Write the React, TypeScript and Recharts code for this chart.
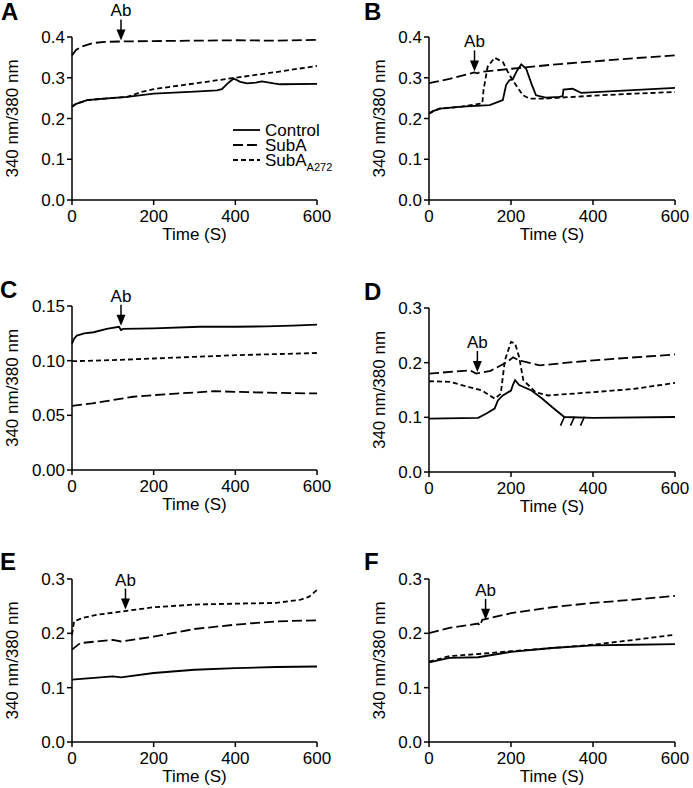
import { LineChart, Line, XAxis, YAxis, ReferenceDot } from 'recharts'

type Pt = [number, number]

// traces: [time (s), 340/380 ratio]
const A_CONTROL: Pt[] = [[0, 0.229], [10, 0.236], [37, 0.245], [80, 0.249], [135, 0.253], [200, 0.261], [300, 0.266], [355, 0.269], [367, 0.272], [380, 0.285], [396, 0.298], [412, 0.29], [429, 0.286], [450, 0.288], [465, 0.291], [494, 0.286], [510, 0.284], [600, 0.285]]
const A_SUBA: Pt[] = [[0, 0.355], [10, 0.368], [25, 0.377], [50, 0.385], [80, 0.388], [120, 0.389], [200, 0.39], [300, 0.391], [400, 0.392], [500, 0.391], [600, 0.393]]
const A_A272: Pt[] = [[0, 0.229], [10, 0.236], [37, 0.245], [80, 0.249], [135, 0.253], [170, 0.265], [200, 0.272], [300, 0.286], [400, 0.3], [500, 0.314], [600, 0.329]]

const B_CONTROL: Pt[] = [[0, 0.212], [10, 0.218], [26, 0.224], [80, 0.229], [148, 0.233], [180, 0.245], [188, 0.282], [196, 0.294], [204, 0.296], [215, 0.318], [225, 0.333], [237, 0.322], [250, 0.285], [261, 0.257], [285, 0.251], [318, 0.253], [326, 0.255], [328, 0.271], [350, 0.273], [371, 0.263], [600, 0.275]]
const B_SUBA: Pt[] = [[0, 0.287], [50, 0.297], [100, 0.31], [110, 0.313], [118, 0.311], [125, 0.314], [200, 0.322], [300, 0.332], [400, 0.34], [500, 0.348], [600, 0.355]]
const B_A272: Pt[] = [[0, 0.212], [10, 0.218], [26, 0.224], [80, 0.229], [130, 0.237], [133, 0.27], [143, 0.327], [160, 0.349], [180, 0.339], [192, 0.315], [204, 0.294], [229, 0.257], [245, 0.249], [285, 0.249], [400, 0.256], [500, 0.261], [600, 0.265]]

const C_CONTROL: Pt[] = [[0, 0.1156], [5, 0.12], [12, 0.123], [30, 0.125], [53, 0.126], [85, 0.129], [115, 0.131], [120, 0.128], [125, 0.129], [200, 0.1295], [313, 0.131], [400, 0.131], [476, 0.1314], [540, 0.132], [600, 0.133]]
const C_SUBA: Pt[] = [[0, 0.0587], [50, 0.061], [100, 0.064], [150, 0.067], [200, 0.0685], [300, 0.0709], [350, 0.0721], [400, 0.0715], [500, 0.0706], [600, 0.07]]
const C_A272: Pt[] = [[0, 0.0995], [100, 0.1005], [200, 0.102], [300, 0.1035], [400, 0.105], [500, 0.106], [600, 0.107]]

const D_CONTROL: Pt[] = [[0, 0.0976], [120, 0.099], [140, 0.107], [160, 0.116], [165, 0.125], [168, 0.131], [180, 0.14], [200, 0.149], [205, 0.16], [210, 0.168], [220, 0.159], [250, 0.149], [275, 0.135], [300, 0.119], [330, 0.1006], [400, 0.099], [600, 0.1006]]
const D_SUBA: Pt[] = [[0, 0.18], [100, 0.186], [115, 0.18], [150, 0.185], [190, 0.201], [205, 0.21], [220, 0.204], [270, 0.195], [350, 0.201], [450, 0.207], [600, 0.215]]
const D_A272: Pt[] = [[0, 0.166], [50, 0.165], [100, 0.155], [130, 0.149], [160, 0.134], [175, 0.143], [185, 0.204], [200, 0.238], [210, 0.235], [220, 0.21], [230, 0.168], [260, 0.146], [290, 0.14], [400, 0.146], [500, 0.152], [600, 0.163]]

const E_CONTROL: Pt[] = [[0, 0.1147], [100, 0.1208], [120, 0.119], [200, 0.127], [300, 0.133], [400, 0.136], [500, 0.138], [600, 0.139]]
const E_SUBA: Pt[] = [[0, 0.17], [20, 0.182], [100, 0.188], [120, 0.185], [200, 0.194], [300, 0.208], [400, 0.216], [500, 0.222], [600, 0.224]]
const E_A272: Pt[] = [[0, 0.1975], [5, 0.222], [25, 0.228], [60, 0.234], [120, 0.24], [200, 0.248], [300, 0.253], [400, 0.2546], [500, 0.256], [560, 0.262], [580, 0.267], [600, 0.28]]

const F_CONTROL: Pt[] = [[0, 0.1466], [50, 0.155], [120, 0.156], [200, 0.166], [300, 0.173], [400, 0.178], [500, 0.179], [600, 0.18]]
const F_SUBA: Pt[] = [[0, 0.2006], [50, 0.21], [120, 0.218], [124, 0.214], [130, 0.225], [200, 0.237], [300, 0.248], [400, 0.256], [500, 0.262], [600, 0.269]]
const F_A272: Pt[] = [[0, 0.148], [50, 0.158], [120, 0.162], [200, 0.167], [300, 0.173], [400, 0.179], [500, 0.188], [600, 0.1975]]

const X_TICKS = [0, 200, 400, 600]
const Y_TICKS = [0, 0.1, 0.2, 0.3, 0.4]
const Y_TICKS_03 = [0, 0.1, 0.2, 0.3]
const Y_TICKS_C = [0, 0.05, 0.1, 0.15]

const FONT = '"Liberation Sans", Arial, sans-serif'
const SERIES = [
  { name: 'Control', dash: undefined as string | undefined },
  { name: 'SubA', dash: '10 4' },
  { name: 'SubA272', dash: '5 3' },
]

const toRows = (pts: Pt[]) => pts.map(([t, v]) => ({ t, v }))

const AbArrow = (props: any) => {
  const { cx, cy } = props
  return (
    <g>
      <text x={cx} y={cy - 25} textAnchor="middle" fontSize={17} fontFamily={FONT} fill="#000">Ab</text>
      <line x1={cx} y1={cy - 22} x2={cx} y2={cy - 9} stroke="#000" strokeWidth={1.5} />
      <path d={`M${cx - 4.5},${cy - 12} L${cx + 4.5},${cy - 12} L${cx},${cy - 1} Z`} fill="#000" />
    </g>
  )
}

const Hash = (props: any) => {
  const { cx, cy } = props
  return (
    <g stroke="#000" strokeWidth={1.6}>
      {[-10, 0, 10].map((dx) => (
        <line key={dx} x1={cx + dx + 2} y1={cy - 4} x2={cx + dx - 2} y2={cy + 5} />
      ))}
    </g>
  )
}

// legend of panel A, drawn over the plot
const LegendBox = () => (
  <svg width={130} height={52} style={{ position: 'absolute', left: 233, top: 122, overflow: 'visible' }}>
    {SERIES.map((s, i) => (
      <g key={s.name}>
        <line x1={0} x2={27} y1={8 + i * 15} y2={8 + i * 15} stroke="#000" strokeWidth={1.8} strokeDasharray={s.dash} />
        <text x={32} y={14 + i * 15} fontSize={17} fontFamily={FONT} fill="#000">
          {i === 2 ? (
            <>SubA<tspan fontSize={11} dy={5}>A272</tspan></>
          ) : s.name}
        </text>
      </g>
    ))}
  </svg>
)

interface PanelProps {
  left: number
  top: number
  w: number
  h: number
  yMax: number
  yTicks: number[]
  digits: number
  labelOffset: number
  control: Pt[]
  subA: Pt[]
  a272: Pt[]
  ab: Pt
  hash?: Pt
}

const MT = 40
const YW = 72
const MR = 20
const XH = 50

function Panel(p: PanelProps) {
  const series = [p.control, p.subA, p.a272]
  return (
    <div style={{ position: 'absolute', left: p.left - YW, top: p.top - MT }}>
      <LineChart width={YW + p.w + MR} height={MT + p.h + XH} margin={{ top: MT, right: MR, left: 0, bottom: 0 }} style={{ overflow: 'visible' }}>
        <XAxis
          dataKey="t"
          type="number"
          domain={[0, 600]}
          ticks={X_TICKS}
          height={XH}
          stroke="#000"
          strokeWidth={1.5}
          tickSize={5}
          tickMargin={5}
          tick={{ fontSize: 17, fill: '#000', fontFamily: FONT }}
          label={{
            content: () => (
              <text x={YW + p.w / 2} y={MT + p.h + 40} textAnchor="middle" fontSize={17} fontFamily={FONT} fill="#000">Time (S)</text>
            ),
          }}
        />
        <YAxis
          type="number"
          domain={[0, p.yMax]}
          ticks={p.yTicks}
          width={YW}
          stroke="#000"
          strokeWidth={1.5}
          tickSize={5}
          tickMargin={2}
          tickFormatter={(v: number) => v.toFixed(p.digits)}
          tick={{ fontSize: 17, fill: '#000', fontFamily: FONT }}
          label={{
            content: () => (
              <text
                x={YW - p.labelOffset}
                y={MT + p.h / 2}
                transform={`rotate(-90 ${YW - p.labelOffset} ${MT + p.h / 2})`}
                textAnchor="middle"
                dominantBaseline="central"
                fontSize={17}
                fontFamily={FONT}
                fill="#000"
              >340 nm/380 nm</text>
            ),
          }}
        />
        {series.map((s, i) => (
          <Line
            key={SERIES[i].name}
            data={toRows(s)}
            dataKey="v"
            name={SERIES[i].name}
            type="linear"
            stroke="#000"
            strokeWidth={1.8}
            strokeDasharray={SERIES[i].dash}
            dot={false}
            isAnimationActive={false}
          />
        ))}
        <ReferenceDot x={p.ab[0]} y={p.ab[1]} shape={AbArrow} />
        {p.hash && <ReferenceDot x={p.hash[0]} y={p.hash[1]} shape={Hash} />}
      </LineChart>
    </div>
  )
}

const LETTERS: [string, number, number][] = [
  ['A', 1, 2], ['B', 364, 2], ['C', 0, 280], ['D', 364, 282], ['E', 0, 552], ['F', 364, 552],
]

export default function App() {
  return (
    <div style={{ position: 'absolute', left: 0, top: 0, width: 693, height: 788, background: '#fff', fontFamily: FONT, overflow: 'hidden' }}>
      {LETTERS.map(([l, x, y]) => (
        <div key={l} style={{ position: 'absolute', left: x, top: y, fontSize: 24, lineHeight: '20px', fontWeight: 'bold' }}>{l}</div>
      ))}
      <Panel left={72} top={37} w={245} h={163} yMax={0.4} yTicks={Y_TICKS} digits={1} labelOffset={60}
        control={A_CONTROL} subA={A_SUBA} a272={A_A272} ab={[120, 0.389]} />
      <LegendBox />
      <Panel left={429} top={37} w={246} h={163} yMax={0.4} yTicks={Y_TICKS} digits={1} labelOffset={50}
        control={B_CONTROL} subA={B_SUBA} a272={B_A272} ab={[111, 0.313]} />
      <Panel left={72} top={306} w={245} h={164} yMax={0.15} yTicks={Y_TICKS_C} digits={2} labelOffset={60}
        control={C_CONTROL} subA={C_SUBA} a272={C_A272} ab={[120, 0.131]} />
      <Panel left={429} top={308} w={246} h={164} yMax={0.3} yTicks={Y_TICKS_03} digits={1} labelOffset={50}
        control={D_CONTROL} subA={D_SUBA} a272={D_A272} ab={[118, 0.181]} hash={[350, 0.094]} />
      <Panel left={72} top={579} w={245} h={163} yMax={0.3} yTicks={Y_TICKS_03} digits={1} labelOffset={60}
        control={E_CONTROL} subA={E_SUBA} a272={E_A272} ab={[131, 0.242]} />
      <Panel left={429} top={579} w={246} h={163} yMax={0.3} yTicks={Y_TICKS_03} digits={1} labelOffset={50}
        control={F_CONTROL} subA={F_SUBA} a272={F_A272} ab={[138, 0.223]} />
    </div>
  )
}
